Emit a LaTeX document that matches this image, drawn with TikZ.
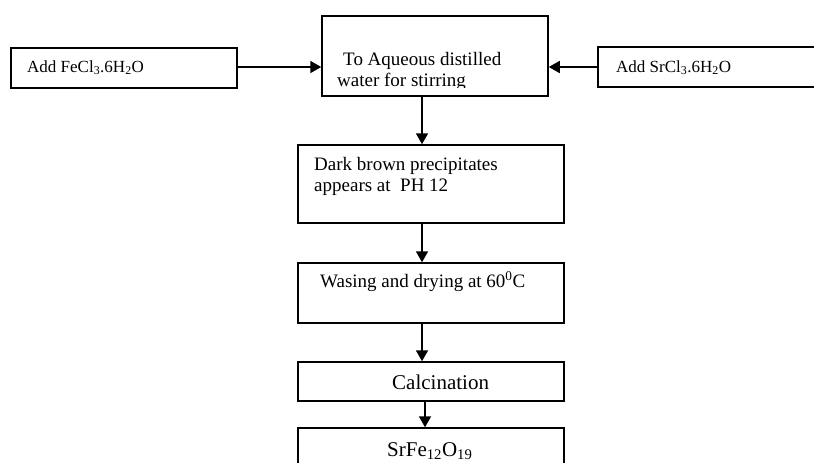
\documentclass[tikz,border=0pt]{standalone}
\usepackage{fontspec}
\setmainfont{Liberation Serif}
\usetikzlibrary{arrows.meta}

\tikzset{
  box/.style={draw, line width=1.5pt, inner sep=0pt},
  txt/.style={anchor=base west, inner sep=0pt, font=\fontsize{19}{22}\selectfont},
  small/.style={txt, font=\fontsize{17}{20}\selectfont},
  big/.style={txt, font=\fontsize{21}{24}\selectfont},
  flow/.style={line width=1.8pt, -{Triangle[length=11pt,width=12pt]}}
}

\begin{document}
\begin{tikzpicture}[x=1pt, y=-1pt]
  \useasboundingbox (0,0) rectangle (814,463);
  \clip (0,0) rectangle (814,463);
  % Boxes
  \node[box, minimum width=226pt, minimum height=40pt] (feBox) at (124,68) {};
  \node[box, minimum width=226pt, minimum height=80pt] (mixBox) at (435,56) {};
  \node[box, minimum width=240pt, minimum height=40pt] (srBox) at (718,67) {};
  \node[box, minimum width=266pt, minimum height=78pt] (precBox) at (431,184) {};
  \node[box, minimum width=266pt, minimum height=60pt] (washBox) at (431,293) {};
  \node[box, minimum width=266pt, minimum height=39pt] (calcBox) at (431,381.5) {};
  \node[box, minimum width=266pt, minimum height=54pt] (ferriteBox) at (431,455) {};
  % Texts
  \node[small] (feTxt) at (27,72) {Add FeCl\textsubscript{3}.6H\textsubscript{2}O};
  \node[small] (srTxt) at (616,72) {Add SrCl\textsubscript{3}.6H\textsubscript{2}O};
  \node[txt] (mixTxtA) at (343,65) {To Aqueous distilled};
  \begin{scope}
    \clip (322,16) rectangle (548,87.5);
    \node[txt] (mixTxtB) at (337,86) {water for stirring};
  \end{scope}
  \node[txt] (precTxtA) at (314,170) {Dark brown precipitates};
  \node[txt] (precTxtB) at (314,191) {appears at\ \ PH 12};
  \node[txt] (washTxt) at (320,287) {Wasing and drying at 60\textsuperscript{0}C};
  \node[big] (calcTxt) at (392,389) {Calcination};
  \node[big] (ferriteTxt) at (387,456) {SrFe\textsubscript{12}O\textsubscript{19}};
  % Arrows
  \coordinate (axis) at (422,0);
  \coordinate (axisB) at (425,0);
  \draw[flow] (feBox.east |- 0,67) -- (mixBox.west |- 0,67);
  \draw[flow] (srBox.west) -- (srBox.west -| mixBox.east);
  \draw[flow] (mixBox.south -| axis) -- (precBox.north -| axis);
  \draw[flow] (precBox.south -| axis) -- (washBox.north -| axis);
  \draw[flow] (washBox.south -| axis) -- (calcBox.north -| axis);
  \draw[flow] (calcBox.south -| axisB) -- (ferriteBox.north -| axisB);
\end{tikzpicture}
\end{document}
